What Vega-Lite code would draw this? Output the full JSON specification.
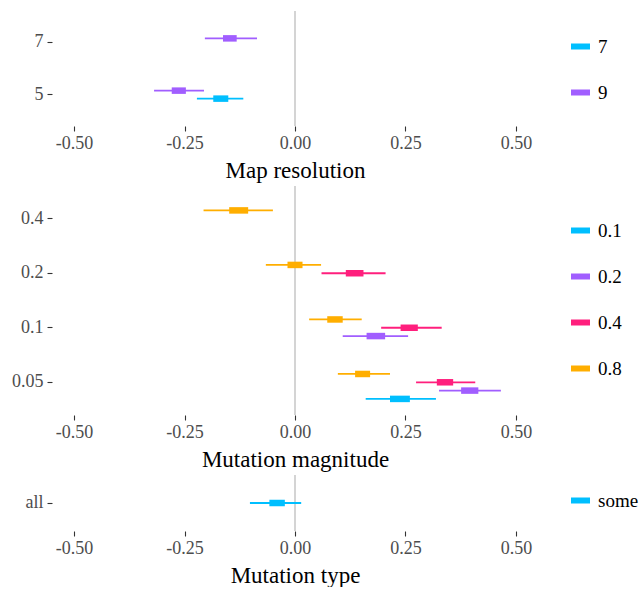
{
  "$schema": "https://vega.github.io/schema/vega-lite/v6.json",
  "padding": {"left": 11, "top": 10, "right": 0, "bottom": 0},
  "background": "white",
  "spacing": 3,
  "resolve": {
    "scale": {"color": "independent", "yOffset": "independent", "y": "independent", "x": "independent"},
    "legend": {"color": "independent"},
    "axis": {"x": "independent", "y": "independent"}
  },
  "datasets": {
    "res": [
      {"level": "7", "group": "9", "lo": -0.204, "hi": -0.086, "q1": -0.163, "q3": -0.132},
      {"level": "5", "group": "9", "lo": -0.319, "hi": -0.206, "q1": -0.279, "q3": -0.247},
      {"level": "5", "group": "7", "lo": -0.222, "hi": -0.117, "q1": -0.185, "q3": -0.151}
    ],
    "mag": [
      {"level": "0.4", "group": "0.8", "lo": -0.207, "hi": -0.05, "q1": -0.149, "q3": -0.106},
      {"level": "0.2", "group": "0.8", "lo": -0.066, "hi": 0.059, "q1": -0.017, "q3": 0.017},
      {"level": "0.2", "group": "0.4", "lo": 0.06, "hi": 0.205, "q1": 0.115, "q3": 0.155},
      {"level": "0.1", "group": "0.8", "lo": 0.032, "hi": 0.151, "q1": 0.073, "q3": 0.108},
      {"level": "0.1", "group": "0.4", "lo": 0.195, "hi": 0.332, "q1": 0.239, "q3": 0.278},
      {"level": "0.1", "group": "0.2", "lo": 0.108, "hi": 0.256, "q1": 0.162, "q3": 0.204},
      {"level": "0.05", "group": "0.8", "lo": 0.097, "hi": 0.215, "q1": 0.136, "q3": 0.17},
      {"level": "0.05", "group": "0.4", "lo": 0.274, "hi": 0.408, "q1": 0.321, "q3": 0.358},
      {"level": "0.05", "group": "0.2", "lo": 0.326, "hi": 0.466, "q1": 0.376, "q3": 0.415},
      {"level": "0.05", "group": "0.1", "lo": 0.16, "hi": 0.319, "q1": 0.215, "q3": 0.26}
    ],
    "typ": [
      {"level": "all", "group": "some", "lo": -0.102, "hi": 0.014, "q1": -0.058, "q3": -0.023}
    ],
    "zero": [{"v": 0}]
  },
  "vconcat": [
    {
      "width": 486,
      "height": 115,
      "layer": [
        {
          "data": {"name": "zero"},
          "mark": {"type": "rule", "color": "#BDBDBD", "strokeWidth": 1.3},
          "encoding": {"x": {"field": "v", "type": "quantitative", "scale": {"domain": [-0.55, 0.55], "nice": false, "zero": false}, "axis": {"values": [-0.5, -0.25, 0, 0.25, 0.5], "labelExpr": "replace(format(datum.value, '.2f'), '\u2212', '-')", "title": "Map resolution"}}}
        },
        {
          "data": {"name": "res"},
          "mark": {"type": "rule", "strokeWidth": 1.8},
          "encoding": {
            "x": {"field": "lo", "type": "quantitative"},
            "x2": {"field": "hi"},
            "y": {"field": "level", "type": "nominal", "scale": {"domain": ["7", "5"], "paddingInner": 0, "paddingOuter": 0.1}, "axis": {"title": null}},
            "yOffset": {"field": "group", "type": "nominal", "scale": {"domain": ["a", "b", "9", "7", "c", "d"], "paddingInner": 0, "paddingOuter": 0.27}},
            "color": {"field": "group", "type": "nominal", "scale": {"domain": ["7", "9"], "range": ["#00BFFF", "#A15EFF"]}, "legend": {"orient": "none", "legendX": 516, "legendY": 23}}
          }
        },
        {
          "data": {"name": "res"},
          "mark": {"type": "rule", "strokeWidth": 6.5, "strokeCap": "butt"},
          "encoding": {
            "x": {"field": "q1", "type": "quantitative"},
            "x2": {"field": "q3"},
            "y": {"field": "level", "type": "nominal"},
            "yOffset": {"field": "group", "type": "nominal"},
            "color": {"field": "group", "type": "nominal"}
          }
        }
      ]
    },
    {
      "width": 486,
      "height": 229,
      "layer": [
        {
          "data": {"name": "zero"},
          "mark": {"type": "rule", "color": "#BDBDBD", "strokeWidth": 1.3},
          "encoding": {"x": {"field": "v", "type": "quantitative", "scale": {"domain": [-0.55, 0.55], "nice": false, "zero": false}, "axis": {"values": [-0.5, -0.25, 0, 0.25, 0.5], "labelExpr": "replace(format(datum.value, '.2f'), '\u2212', '-')", "title": "Mutation magnitude"}}}
        },
        {
          "data": {"name": "mag"},
          "mark": {"type": "rule", "strokeWidth": 1.8},
          "encoding": {
            "x": {"field": "lo", "type": "quantitative"},
            "x2": {"field": "hi"},
            "y": {"field": "level", "type": "nominal", "scale": {"domain": ["0.4", "0.2", "0.1", "0.05"], "paddingInner": 0, "paddingOuter": 0.1}, "axis": {"title": null}},
            "yOffset": {"field": "group", "type": "nominal", "scale": {"domain": ["x", "0.8", "0.4", "0.2", "0.1"], "paddingInner": 0, "paddingOuter": 0.78}},
            "color": {"field": "group", "type": "nominal", "scale": {"domain": ["0.1", "0.2", "0.4", "0.8"], "range": ["#00BFFF", "#A15EFF", "#FF1F7D", "#FFAE00"]}, "legend": {"orient": "none", "legendX": 516, "legendY": 32}}
          }
        },
        {
          "data": {"name": "mag"},
          "mark": {"type": "rule", "strokeWidth": 6.5, "strokeCap": "butt"},
          "encoding": {
            "x": {"field": "q1", "type": "quantitative"},
            "x2": {"field": "q3"},
            "y": {"field": "level", "type": "nominal"},
            "yOffset": {"field": "group", "type": "nominal"},
            "color": {"field": "group", "type": "nominal"}
          }
        }
      ]
    },
    {
      "width": 486,
      "height": 56,
      "layer": [
        {
          "data": {"name": "zero"},
          "mark": {"type": "rule", "color": "#BDBDBD", "strokeWidth": 1.3},
          "encoding": {"x": {"field": "v", "type": "quantitative", "scale": {"domain": [-0.55, 0.55], "nice": false, "zero": false}, "axis": {"values": [-0.5, -0.25, 0, 0.25, 0.5], "labelExpr": "replace(format(datum.value, '.2f'), '\u2212', '-')", "title": "Mutation type"}}}
        },
        {
          "data": {"name": "typ"},
          "mark": {"type": "rule", "strokeWidth": 1.8},
          "encoding": {
            "x": {"field": "lo", "type": "quantitative"},
            "x2": {"field": "hi"},
            "y": {"field": "level", "type": "nominal", "scale": {"domain": ["all"], "paddingInner": 0, "paddingOuter": 0.1}, "axis": {"title": null}},
            "color": {"field": "group", "type": "nominal", "scale": {"domain": ["some"], "range": ["#00BFFF"]}, "legend": {"orient": "none", "legendX": 516, "legendY": 13}}
          }
        },
        {
          "data": {"name": "typ"},
          "mark": {"type": "rule", "strokeWidth": 6.5, "strokeCap": "butt"},
          "encoding": {
            "x": {"field": "q1", "type": "quantitative"},
            "x2": {"field": "q3"},
            "y": {"field": "level", "type": "nominal"},
            "color": {"field": "group", "type": "nominal"}
          }
        }
      ]
    }
  ],
  "config": {
    "view": {"stroke": null},
    "font": "Liberation Serif",
    "axis": {
      "domain": false,
      "grid": false,
      "tickColor": "#333333",
      "tickSize": 5,
      "tickWidth": 1.1,
      "labelColor": "#4D4D4D",
      "labelFont": "Liberation Serif",
      "labelFontSize": 18,
      "titleFont": "Liberation Serif",
      "titleFontSize": 23,
      "titleFontWeight": "normal",
      "titleColor": "#000000"
    },
    "axisX": {"labelPadding": 3, "titlePadding": 7},
    "axisY": {"labelPadding": 4},
    "legend": {
      "title": null,
      "symbolType": "stroke",
      "symbolStrokeWidth": 6,
      "symbolSize": 361,
      "labelFont": "Liberation Serif",
      "labelFontSize": 19,
      "labelColor": "#000000",
      "labelOffset": 5,
      "rowPadding": 21
    }
  }
}
